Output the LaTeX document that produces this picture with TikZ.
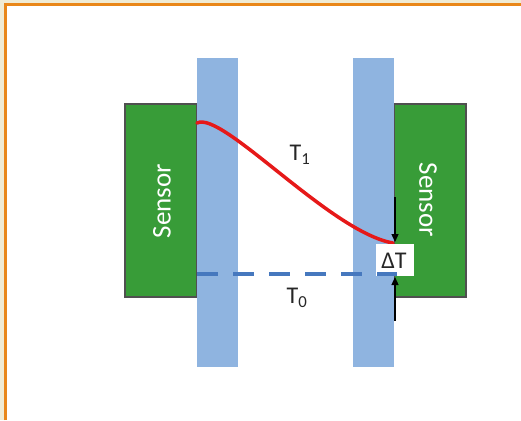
\documentclass[tikz,border=0pt]{standalone}
\usepackage{fontspec}
\setmainfont{Carlito}
\usetikzlibrary{arrows.meta}
\definecolor{bgbeige}{RGB}{240,235,212}
\definecolor{frameorange}{RGB}{233,135,25}
\definecolor{barblue}{RGB}{143,180,224}
\definecolor{sensgreen}{RGB}{56,156,56}
\definecolor{sensedge}{RGB}{80,80,80}
\definecolor{curvered}{RGB}{230,25,25}
\definecolor{dashblue}{RGB}{70,120,190}
\tikzset{
  sensorbox/.style={draw=sensedge, line width=1.2pt, fill=sensgreen, minimum width=72pt, minimum height=193pt, inner sep=0pt},
  barbox/.style={fill=barblue, minimum width=41pt, minimum height=309pt, inner sep=0pt},
  sensortext/.style={text=white, font=\fontsize{27}{30}\selectfont},
  labeltext/.style={text=black!85, font=\fontsize{24}{26}\selectfont},
  arrowline/.style={black, line width=1.3pt, -{Triangle[length=8pt,width=7pt]}},
}
\begin{document}
\begin{tikzpicture}[x=1pt,y=-1pt]
\useasboundingbox (0,0) rectangle (521,420);
\fill[bgbeige] (0,0) rectangle (521,420);
\fill[white] (6,6) rectangle (521,420);
\draw[frameorange, line width=3pt] (5.5,420) -- (5.5,4.5) -- (521,4.5);
% sensors
\node[sensorbox] (lsensor) at (161,200.5) {};
\node[sensorbox] (rsensor) at (430,200.5) {};
% bars
\node[barbox] (lbar) at (217.5,212.5) {};
\node[barbox] (rbar) at (373.5,212.5) {};
\node[sensortext, rotate=90] (lsensortext) at (162,201) {Sensor};
\node[sensortext, rotate=-90] (rsensortext) at (428,200) {Sensor};
% curve
\coordinate (cstart) at (197,123);
\coordinate (cend) at (393,243);
\draw[curvered, line width=3.5pt, line cap=round] (cstart) .. controls (222,110) and (330,232) .. (cend);
% delta T box
\node[fill=white, minimum width=38pt, minimum height=32pt, inner sep=0pt] (dtbox) at (395,260) {};
\node[labeltext] (dt) at (394,261) {ΔT};
% dashed line
\coordinate (dstart) at (197,274);
\coordinate (dend) at (397,274);
\draw[dashblue, line width=3.3pt, dash pattern=on 21pt off 15pt] (dstart) -- (dend);
% labels
\node[labeltext] (t1) at (300,155) {T\textsubscript{1}};
\node[labeltext] (t0) at (297,298) {T\textsubscript{0}};
% arrows
\coordinate (atop) at (395,197);
\coordinate (atoptip) at (395,242);
\coordinate (abot) at (395,321);
\coordinate (abottip) at (395,277);
\draw[arrowline] (atop) -- (atoptip);
\draw[arrowline] (abot) -- (abottip);
\end{tikzpicture}
\end{document}
